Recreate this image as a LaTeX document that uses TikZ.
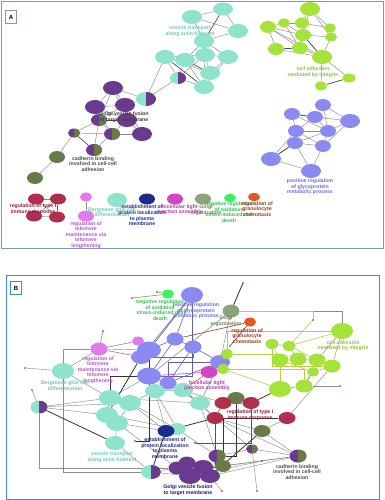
\documentclass[tikz,border=0pt]{standalone}
\usepackage{fontspec}
\setmainfont{Liberation Sans}
\usetikzlibrary{shapes.geometric}
\pgfdeclarelayer{bg}
\pgfsetlayers{bg,main}
\definecolor{cTeal}{HTML}{8EE3CC}
\definecolor{cTealT}{HTML}{72C6AE}
\definecolor{cPur}{HTML}{6A3A8E}
\definecolor{cOli}{HTML}{687B46}
\definecolor{cGrn}{HTML}{A5E33B}
\definecolor{cGrnT}{HTML}{8CC63A}
\definecolor{cBlu}{HTML}{8A8AF2}
\definecolor{cBluT}{HTML}{6E6ED8}
\definecolor{cRed}{HTML}{B02E4E}
\definecolor{cRedT}{HTML}{8A2035}
\definecolor{cPnk}{HTML}{E07BEA}
\definecolor{cPnkT}{HTML}{B058D0}
\definecolor{cNav}{HTML}{1E2B8E}
\definecolor{cMag}{HTML}{D444C4}
\definecolor{cSag}{HTML}{8FA27E}
\definecolor{cLim}{HTML}{3EF062}
\definecolor{cOra}{HTML}{DE5A22}
\definecolor{cBrn}{HTML}{9A3A22}
\definecolor{cYel}{HTML}{B8CC44}
\definecolor{cFrameA}{HTML}{7F96BC}
\definecolor{cFrameB}{HTML}{3E8CD0}
\newcommand\lblfont{\fontsize{5.2}{5.6}\selectfont\bfseries}
\begin{document}
\begin{tikzpicture}[x=1pt,y=-1pt,
  nd/.style={ellipse, inner sep=0pt, draw=none, fill=#1},
  es/.style 2 args={minimum width=#1pt, minimum height=#2pt},
  hf/.style 2 args={ellipse, inner sep=0pt, draw=none, fill=#1,
     path picture={\fill[#2] (path picture bounding box.north) rectangle (path picture bounding box.south east);}},
  lbl/.style={font=\lblfont, align=center, text=#1, inner sep=0pt},
  ed/.style={draw=black!45, line width=0.45pt},
  edk/.style={draw=black!70, line width=0.7pt},
  gene/.style={circle, fill=red!70!black, inner sep=0pt, minimum size=1.6pt},
  ebl/.style={draw=cBlu!70!black, line width=0.6pt},
  eyl/.style={draw=cYel, line width=0.6pt},
  edd/.style={draw=black!80, line width=0.8pt},
  ebr/.style={draw=cBrn, line width=0.6pt},
  epk/.style={draw=cPnk!80!black, line width=0.6pt},
  panlbl/.style={draw=#1, line width=0.6pt, minimum width=11pt, minimum height=13pt, inner sep=0pt, font=\fontsize{6}{6}\selectfont\bfseries}
]
\useasboundingbox (0,0) rectangle (385,500);
\begin{pgfonlayer}{bg}
\fill[white] (0,0) rectangle (385,500);
\end{pgfonlayer}

%%%%%%%%%%%% PANEL A %%%%%%%%%%%%
\node[nd=cTeal, es={20}{14}] (t1) at (192,17) {};
\node[nd=cTeal, es={20}{13}] (t2) at (223,9) {};
\node[nd=cTeal, es={20}{14}] (t3) at (238,31) {};
\node[nd=cTeal, es={20}{14}] (t4) at (204,41) {};
\node[nd=cTeal, es={20}{14}] (t5) at (165,57) {};
\node[nd=cTeal, es={20}{14}] (t6) at (185,60) {};
\node[nd=cTeal, es={20}{14}] (t7) at (205,55) {};
\node[nd=cTeal, es={20}{14}] (t8) at (228,57) {};
\node[nd=cTeal, es={20}{14}] (t9) at (210,73) {};
\node[hf={cTeal}{cPur}, es={16}{12}] (t10) at (178,78) {};
\node[nd=cTeal, es={20}{14}] (t11) at (204,87) {};
\node[hf={cTeal}{cPur}, es={20}{14}] (t12) at (146,99) {};
\node[nd=cPur, es={20}{14}] (p1) at (113,88) {};
\node[nd=cPur, es={20}{14}] (p2) at (95,107) {};
\node[nd=cPur, es={20}{14}] (p3) at (125,105) {};
\node[hf={cPur}{cOli}, es={16}{12}] (p4) at (99,120) {};
\node[nd=cPur, es={20}{14}] (p5) at (127,120) {};
\node[hf={cPur}{cOli}, es={16}{12}] (p6) at (112,134) {};
\node[nd=cPur, es={20}{14}] (p7) at (142,134) {};
\node[hf={cPur}{cOli}, es={12}{9}] (o1) at (74,133) {};
\node[hf={cPur}{cOli}, es={16}{12}] (o2) at (94,150) {};
\node[nd=cOli, es={16}{12}] (o3) at (57,157) {};
\node[nd=cOli, es={16}{12}] (o4) at (35,178) {};
\node[nd=cGrn, es={20}{14}] (g1) at (310,9) {};
\node[nd=cGrn, es={16}{12}] (g2) at (268,27) {};
\node[nd=cGrn, es={12}{9}] (g3) at (284,23) {};
\node[nd=cGrn, es={14}{11}] (g4) at (302,23) {};
\node[nd=cGrn, es={12}{9}] (g5) at (330,28) {};
\node[nd=cGrn, es={16}{12}] (g6) at (303,35) {};
\node[nd=cGrn, es={12}{9}] (g7) at (331,37) {};
\node[nd=cGrn, es={16}{12}] (g8) at (276,49) {};
\node[nd=cGrn, es={16}{12}] (g9) at (300,48) {};
\node[nd=cGrn, es={20}{14}] (g10) at (322,57) {};
\node[nd=cGrn, es={13}{9}] (g11) at (349,78) {};
\node[nd=cGrn, es={12}{9}] (g12) at (321,86) {};
\node[nd=cBlu, es={16}{12}] (b1) at (323,105) {};
\node[nd=cBlu, es={16}{12}] (b2) at (292,114) {};
\node[nd=cBlu, es={16}{12}] (b3) at (315,117) {};
\node[nd=cBlu, es={20}{14}] (b4) at (350,121) {};
\node[nd=cBlu, es={16}{12}] (b5) at (296,131) {};
\node[nd=cBlu, es={16}{12}] (b6) at (328,131) {};
\node[nd=cBlu, es={16}{12}] (b7) at (295,143) {};
\node[nd=cBlu, es={16}{12}] (b8) at (323,146) {};
\node[nd=cBlu, es={20}{14}] (b9) at (271,159) {};
\node[nd=cBlu, es={20}{14}] (b10) at (311,171) {};
\node[nd=cRed, es={16}{11}] (r1) at (36,199) {};
\node[nd=cRed, es={16}{11}] (r2) at (58,199) {};
\node[nd=cRed, es={16}{11}] (r3) at (34,216) {};
\node[nd=cRed, es={16}{11}] (r4) at (57,217) {};
\node[nd=cPnk, es={12}{9}] (k1) at (86,197) {};
\node[nd=cPnk, es={16}{11}] (k2) at (86,216) {};
\node[nd=cTeal, es={20}{14}] (te) at (117,200) {};
\node[nd=cNav, es={16}{11}] (nv) at (147,199) {};
\node[nd=cMag, es={16}{11}] (mg) at (175,199) {};
\node[nd=cSag, es={16}{11}] (sg) at (203,199) {};
\node[nd=cLim, es={12}{8}] (lm) at (230,198) {};
\node[nd=cOra, es={12}{8}] (orn) at (254,197) {};

\begin{pgfonlayer}{bg}
\foreach \a/\b in {t1/t2,t1/t3,t2/t3,t1/t4,t3/t4,t4/t6,t4/t8,t5/t6,t5/t7,t6/t7,t7/t8,t7/t9,t5/t9,t6/t11,t7/t11,t9/t11,t10/t5,t10/t6,t10/t7,t10/t11,t8/t9,t8/t11,t10/t12,t5/t12,
  p1/p2,p1/p3,p1/p4,p1/p5,p2/p3,p2/p4,p2/p5,p3/p4,p3/p5,p3/p7,p4/p5,p4/p6,p5/p6,p5/p7,p6/p7,p3/t12,p1/t12,p4/o2,p6/o2,o1/p6,o1/o3,o3/o4,p4/o1,p2/p6,
  g1/g4,g1/g6,g1/g5,g2/g3,g2/g6,g2/g8,g2/g9,g3/g4,g3/g6,g4/g5,g5/g7,g6/g7,g6/g9,g6/g10,g8/g9,g8/g10,g9/g10,g7/g10,g3/g9,g2/g10,g10/g11,g10/g12,g4/g9,g1/g7,
  b1/b3,b1/b4,b2/b3,b2/b5,b2/b6,b3/b5,b3/b6,b3/b4,b4/b6,b5/b6,b5/b7,b6/b7,b6/b8,b7/b8,b7/b9,b7/b10,b8/b10,b9/b10,b8/b4,b5/b8,b9/b5,b1/b6,
  r1/r2,r1/r3,r3/r4,r1/r4,r2/r3,k1/k2}
  \draw[ed] (\a) -- (\b);
\foreach \a/\b in {t2/t4,t4/t7,t5/t11,t6/t9,g4/g6,g11/g12,g9/g8,o1/o2,r2/r4,b2/b3,g6/g10,b7/b9,p4/p5}
  \draw[edk] (\a) -- (\b);
\end{pgfonlayer}

\node[lbl=cTealT] (la1) at (190,31) {vesicle transport\\along actin filament};
\node[lbl=black!75] (la2) at (124,117) {Golgi vesicle fusion\\to target membrane};
\node[lbl=black!70] (la3) at (93,164) {cadherin binding\\involved in cell-cell\\adhesion};
\node[lbl=cGrnT] (la4) at (313,72) {cell adhesion\\mediated by integrin};
\node[lbl=cBluT] (la5) at (310,187) {positive regulation\\of glycoprotein\\metabolic process};
\node[lbl=cRedT] (la6) at (33,209) {regulation of type I\\immune response};
\node[lbl=cPnkT] (la7) at (86,235) {regulation of\\telomere\\maintenance via\\telomere\\lengthening};
\node[lbl=cTealT] (la8) at (112,212) {Bergmann glial cell\\differentiation};
\node[lbl=cNav] (la9) at (142,215.5) {establishment of\\protein localization\\to plasma\\membrane};
\node[lbl=cMag!85!black] (la10) at (180,209.5) {bicellular tight\\junction assembly};
\node[lbl=cSag!80!black] (la11) at (206,210) {Golgi\\organization};
\node[lbl=cLim!80!black] (la12) at (229,212) {negative regulation\\of oxidative\\stress-induced cell\\death};
\node[lbl=cBrn] (la13) at (257,209) {regulation of\\granulocyte\\chemotaxis};

\draw[cFrameA, line width=1pt] (1.5,1.5) rectangle (383.5,248);
\node[panlbl=cFrameA] (labA) at (11,17) {A};

%%%%%%%%%%%% PANEL B %%%%%%%%%%%%
\node[gene] (ga) at (132,298) {};
\node[gene] (gb) at (243,283) {};
\node[gene] (gc) at (103,331) {};
\node[gene] (gd) at (25,368) {};
\node[gene] (ge) at (32,390) {};
\node[gene] (gf) at (313,320) {};
\node[gene] (gg) at (340,386) {};
\node[gene] (gh) at (222,491) {};
\node[gene] (gi) at (257,491) {};
\node[gene] (gj) at (157,292) {};
\node[gene] (gk) at (135,441) {};
\node[gene] (gl) at (230,346) {};
\node[gene] (gm) at (195,443) {};
\node[gene] (gn) at (262,461) {};

\node[nd=cLim, es={12}{9}] (BL1) at (168,294) {};
\node[nd=cBlu, es={22}{16}] (BB1) at (192,295) {};
\node[nd=cSag, es={17}{13}] (BS1) at (231,311) {};
\node[nd=cOra, es={12}{9}] (BO1) at (250,322) {};
\node[nd=cGrn, es={22}{16}] (BG1) at (342,331) {};
\node[nd=cGrn, es={13}{10}] (BG2) at (272,344) {};
\node[nd=cGrn, es={13}{10}] (BG3) at (289,346) {};
\node[nd=cPnk, es={12}{9}] (BK1) at (138,341) {};
\node[nd=cPnk, es={17}{13}] (BK2) at (99,349) {};
\node[nd=cBlu, es={17}{13}] (BB2) at (175,339) {};
\node[nd=cBlu, es={17}{13}] (BB3) at (193,347) {};
\node[nd=cBlu, es={20}{14}] (BB5) at (141,357) {};
\node[nd=cBlu, es={24}{17}] (BB4) at (149,350) {};
\node[nd=cBlu, es={20}{14}] (BB6) at (220,362) {};
\node[nd=cGrn, es={12}{10}] (BG4) at (227,354) {};
\node[nd=cGrn, es={12}{10}] (BG5) at (223,369) {};
\node[nd=cGrn, es={17}{13}] (BG6) at (280,360) {};
\node[nd=cGrn, es={17}{13}] (BG7) at (298,359) {};
\node[nd=cGrn, es={17}{13}] (BG8) at (317,360) {};
\node[nd=cGrn, es={17}{13}] (BG9) at (332,366) {};
\node[nd=cGrn, es={12}{9}] (BG10) at (313,372) {};
\node[nd=cTeal, es={22}{16}] (BT1) at (63,371) {};
\node[nd=cBlu, es={24}{17}] (BB7) at (149,376) {};
\node[nd=cMag, es={17}{12}] (BM1) at (209,372) {};
\node[nd=cBlu, es={17}{13}] (BB8) at (168,383) {};
\node[nd=cTeal, es={20}{14}] (BT2) at (155,391) {};
\node[nd=cTeal, es={20}{14}] (BT3) at (183,390) {};
\node[nd=cTeal, es={22}{16}] (BT4) at (110,398) {};
\node[nd=cTeal, es={22}{16}] (BT5) at (130,403) {};
\node[nd=cTeal, es={22}{16}] (BT6) at (107,415) {};
\node[nd=cTeal, es={22}{16}] (BT7) at (117,423) {};
\node[nd=cTeal, es={20}{14}] (BT8) at (200,403) {};
\node[nd=cGrn, es={22}{16}] (BG11) at (280,389) {};
\node[nd=cGrn, es={17}{13}] (BG12) at (304,386) {};
\node[nd=cOli, es={17}{12}] (BO2) at (236,398) {};
\node[nd=cRed, es={17}{12}] (BR1) at (223,403) {};
\node[nd=cRed, es={17}{12}] (BR2) at (251,403) {};
\node[nd=cRed, es={17}{12}] (BR3) at (215,418) {};
\node[nd=cRed, es={17}{12}] (BR4) at (287,418) {};
\node[nd=cOli, es={17}{12}] (BO3) at (262,431) {};
\node[hf={cTeal}{cPur}, es={17}{13}] (BH1) at (39,407) {};
\node[nd=cTeal, es={17}{12}] (BT9) at (177,429) {};
\node[nd=cNav, es={17}{12}] (BN1) at (166,431) {};
\node[nd=cTeal, es={20}{14}] (BT10) at (115,443) {};
\node[hf={cPur}{cOli}, es={17}{13}] (BH2) at (217,456) {};
\node[hf={cPur}{cOli}, es={12}{9}] (BH3) at (252,449) {};
\node[hf={cPur}{cOli}, es={17}{13}] (BH4) at (298,456) {};
\node[nd=cOli, es={16}{12}] (BO4) at (223,466) {};
\node[nd=cPur, es={17}{13}] (BP5) at (187,463) {};
\node[nd=cPur, es={17}{13}] (BP1) at (177,468) {};
\node[nd=cPur, es={20}{14}] (BP3) at (203,467) {};
\node[nd=cPur, es={22}{16}] (BP2) at (190,476) {};
\node[nd=cPur, es={20}{14}] (BP4) at (210,476) {};
\node[hf={cTeal}{cPur}, es={20}{14}] (BH5) at (151,472) {};

\begin{pgfonlayer}{bg}
\foreach \a/\b in {BT1/BT4,BH1/BT4,BH1/BT6,BH1/BT5,BT4/BT5,BT4/BT6,BT5/BT7,BT6/BT7,BT2/BT3,BT3/BT8,BT5/BT2,BT7/BN1,BT6/BT9,BT10/BT7,BT10/BH5,BH5/BP1,BP1/BP2,BP2/BP3,BP3/BP4,BP5/BP3,BH2/BO4,BH2/BH3,BH3/BH4,BO4/BH4,BO3/BH4,BO3/BR4,BO3/BR3,BR1/BR2,BO2/BR1,BO2/BR2,BG11/BG12,BG6/BG7,BG7/BG8,BG8/BG9,BG9/BG10,BG6/BG11,BG8/BG12,BG10/BG12,BG2/BG3,BG3/BG7,BG1/BG9,BG1/BG8,BB6/BG4,BB6/BG5,BT1/gd,BH1/ge,BT2/BT9,BT4/BT8,BT5/BN1,BT8/BH2,BH5/BP2,BP4/gh,BH3/gi,BT9/BH2,BT3/BH3,BT1/BK2,BS1/BB6,BH4/BR3,BT7/BP1,BT8/BR3,BG12/gg,BR4/BG9,BH4/BP4,BH4/BO4,BT2/BN1,BT4/BB7,BT5/BT9,BK2/BB4,BP2/gn,BH2/BP4,BB8/BT8,BT3/BR1}
  \draw[ed] (\a) -- (\b);
\draw[ed] (BT1) |- (BH5);
\draw[ed] (BH1) |- (BP1);
\draw[ed] (BK2) -| (BT1);
\draw[ed] (BS1) -| (BG1);
\foreach \a/\b in {BB1/BB2,BB1/BB5,BB1/BB3,BB2/BB4,BB2/BB7,BB3/BB6,BB4/BB5,BB4/BB7,BB7/BB8,BB3/BB8,BB2/BB3,BB6/BB8,BB1/BB4}
  \draw[ebl] (\a) -- (\b);
\draw[ebl] (BB1) |- (BB7);
\draw[ebl] (BB6) -| (BB8);
\draw[ebl] (BB3) |- (BB5);
\foreach \a/\b in {BG2/BG6,BG3/BG8,BG1/BG3,BG3/gf,BG11/BG5,BG6/BG10}
  \draw[eyl] (\a) -- (\b);
\draw[eyl] (BS1) -| (gf);
\draw[eyl] (BG4) -| (BG11);
\draw[eyl] (BG2) |- (BG9);
\draw[eyl] (BG5) -| (BG12);
\draw[eyl] (BG4) |- (BG1);
\foreach \a/\b in {BH1/BT10,BB5/BT6,BR3/BN1,BO3/BP4,BG11/BR2,BN1/BH5}
  \draw[edd] (\a) -- (\b);
\draw[edd] (BR4) -| (BO4);
\draw[edd] (BO2) |- (BH2);
\draw[edd] (BB4) |- (gk);
\draw[edd] (BS1) -- (gb);
\draw[edd] (BB7) -| (BT4);
\foreach \a/\b in {BO1/BB2,BR1/BR3,BO1/gl}
  \draw[ebr] (\a) -- (\b);
\draw[ebr] (BR3) |- (BP3);
\draw[ebr] (BR2) |- (gm);
\draw[epk] (BK1) -- (BK2);
\draw[epk] (BK2) -- (gc);
\draw[epk] (BK1) -- (BB4);
\draw[epk] (BK2) -- (BB5);
\draw[draw=cMag, line width=0.6pt] (BM1) -- (BB7);
\draw[draw=cMag, line width=0.6pt] (BM1) -- (BT3);
\draw[draw=cLim!70!black, line width=0.5pt] (BL1) -- (ga);
\draw[draw=cLim!70!black, line width=0.5pt] (BL1) -- (gj);
\draw[draw=black!50, line width=0.5pt] (BS1) -- (BB7);
\draw[draw=cTeal!70!black, line width=0.5pt] (BT8) -- (BB6);
\end{pgfonlayer}

\node[lbl=cLim!80!black] (lb1) at (160,310) {negative regulation\\of oxidative\\stress-induced cell\\death};
\node[lbl=cBluT] (lb2) at (196,311) {positive regulation\\of glycoprotein\\metabolic process};
\node[lbl=cSag!80!black] (lb3) at (226,321) {Golgi\\organization};
\node[lbl=cBrn] (lb4) at (247,336) {regulation of\\granulocyte\\chemotaxis};
\node[lbl=cGrnT] (lb5) at (343,345.5) {cell adhesion\\mediated by integrin};
\node[lbl=cPnkT] (lb6) at (98,370) {regulation of\\telomere\\maintenance via\\telomere\\lengthening};
\node[lbl=cTealT] (lb7) at (65,385.5) {Bergmann glial cell\\differentiation};
\node[lbl=cMag!85!black] (lb8) at (207,385.5) {bicellular tight\\junction assembly};
\node[lbl=cRedT] (lb9) at (250,415) {regulation of type I\\immune response};
\node[lbl=cNav] (lb10) at (165,448) {establishment of\\protein localization\\to plasma\\membrane};
\node[lbl=cTealT] (lb11) at (112,457) {vesicle transport\\along actin filament};
\node[lbl=black!70] (lb12) at (297,472) {cadherin binding\\involved in cell-cell\\adhesion};
\node[lbl=cNav!70!black] (lb13) at (188,490) {Golgi vesicle fusion\\to target membrane};

\draw[cFrameB, line width=0.8pt] (6,275) rectangle (379,499);
\node[panlbl=cFrameB] (labB) at (16,288) {B};
\end{tikzpicture}
\end{document}
